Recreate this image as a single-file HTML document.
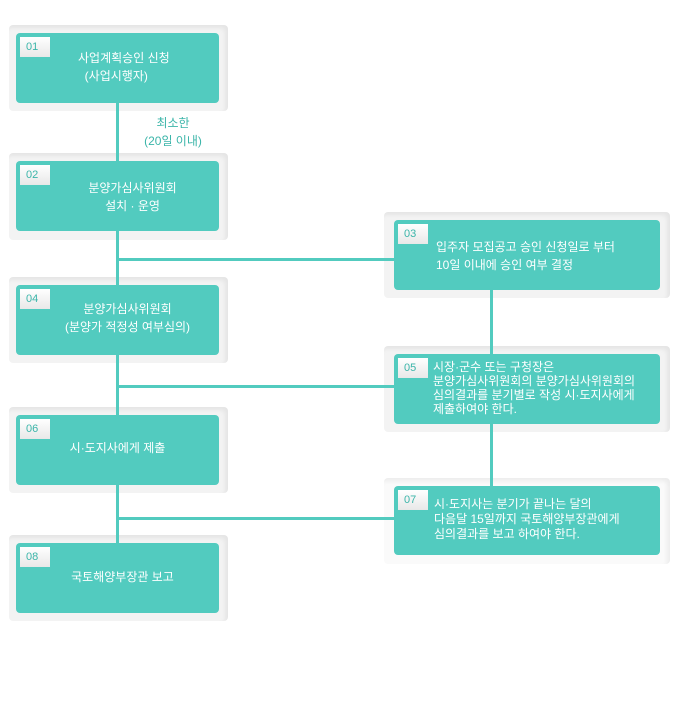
<html><head><style>
body{margin:0;width:680px;height:706px;background:#fff;position:relative;font-family:"Liberation Sans","Noto Sans CJK KR","NanumGothic",sans-serif;overflow:hidden}
.o{position:absolute;background:#f3f3f3;border-radius:4px;box-shadow:inset -3px 3px 4px rgba(0,0,0,0.06);z-index:1}
.b{position:absolute;background:#52cbbf;border-radius:4px;color:#fff;font-size:12px;line-height:18px;z-index:3}
.n{position:absolute;left:4px;top:4px;width:30px;height:20px;background:linear-gradient(#fff,#e8e8e8);color:#3bb5a9;font-size:11px;line-height:20px;text-indent:6px}
.t{position:absolute;left:0;right:0;text-align:center}
.l{position:absolute;background:#52cbbf;z-index:2}
</style></head><body>
<div class="l" style="left:116px;top:100px;width:3px;height:445px"></div>
<div class="l" style="left:490px;top:288px;width:3px;height:200px"></div>
<div class="l" style="left:116px;top:258px;width:280px;height:3px"></div>
<div class="l" style="left:116px;top:385px;width:280px;height:3px"></div>
<div class="l" style="left:116px;top:517px;width:280px;height:3px"></div>

<div class="o" style="left:9px;top:25px;width:219px;height:86px"></div>
<div class="b" style="left:16px;top:33px;width:203px;height:70px"><div class="n">01</div><div class="t" style="top:16px;left:50px;right:0;text-align:left;padding-left:12px">사업계획승인 신청<br>&nbsp;&nbsp;(사업시행자)</div></div>
<div style="position:absolute;left:138px;top:114px;color:#3bb5a9;font-size:12px;line-height:18px;text-align:center;width:70px">최소한<br>(20일 이내)</div>

<div class="o" style="left:9px;top:153px;width:219px;height:87px"></div>
<div class="b" style="left:16px;top:161px;width:203px;height:70px"><div class="n">02</div><div class="t" style="top:18px;left:30px">분양가심사위원회<br>설치 · 운영</div></div>

<div class="o" style="left:9px;top:277px;width:219px;height:86px"></div>
<div class="b" style="left:16px;top:285px;width:203px;height:70px"><div class="n">04</div><div class="t" style="top:15px;left:20px">분양가심사위원회<br>(분양가 적정성 여부심의)</div></div>

<div class="o" style="left:9px;top:407px;width:219px;height:86px"></div>
<div class="b" style="left:16px;top:415px;width:203px;height:70px"><div class="n">06</div><div class="t" style="top:24px;left:0">시·도지사에게 제출</div></div>

<div class="o" style="left:9px;top:535px;width:219px;height:86px"></div>
<div class="b" style="left:16px;top:543px;width:203px;height:70px"><div class="n">08</div><div class="t" style="top:25px;left:10px">국토해양부장관 보고</div></div>

<div class="o" style="left:384px;top:212px;width:286px;height:86px"></div>
<div class="b" style="left:394px;top:220px;width:266px;height:70px"><div class="n">03</div><div class="t" style="top:18px;left:42px;text-align:left">입주자 모집공고 승인 신청일로 부터<br>10일 이내에 승인 여부 결정</div></div>

<div class="o" style="left:384px;top:346px;width:286px;height:86px"></div>
<div class="b" style="left:394px;top:354px;width:266px;height:70px;line-height:14px"><div class="n">05</div><div class="t" style="top:6px;left:39px;text-align:left">시장·군수 또는 구청장은<br>분양가심사위원회의 분양가심사위원회의<br>심의결과를 분기별로 작성 시·도지사에게<br>제출하여야 한다.</div></div>

<div class="o" style="left:384px;top:478px;width:286px;height:86px;background:#fafafa"></div>
<div class="b" style="left:394px;top:486px;width:266px;height:69px;line-height:15px"><div class="n">07</div><div class="t" style="top:11px;left:40px;text-align:left">시·도지사는 분기가 끝나는 달의<br>다음달 15일까지 국토해양부장관에게<br>심의결과를 보고 하여야 한다.</div></div>
</body></html>
